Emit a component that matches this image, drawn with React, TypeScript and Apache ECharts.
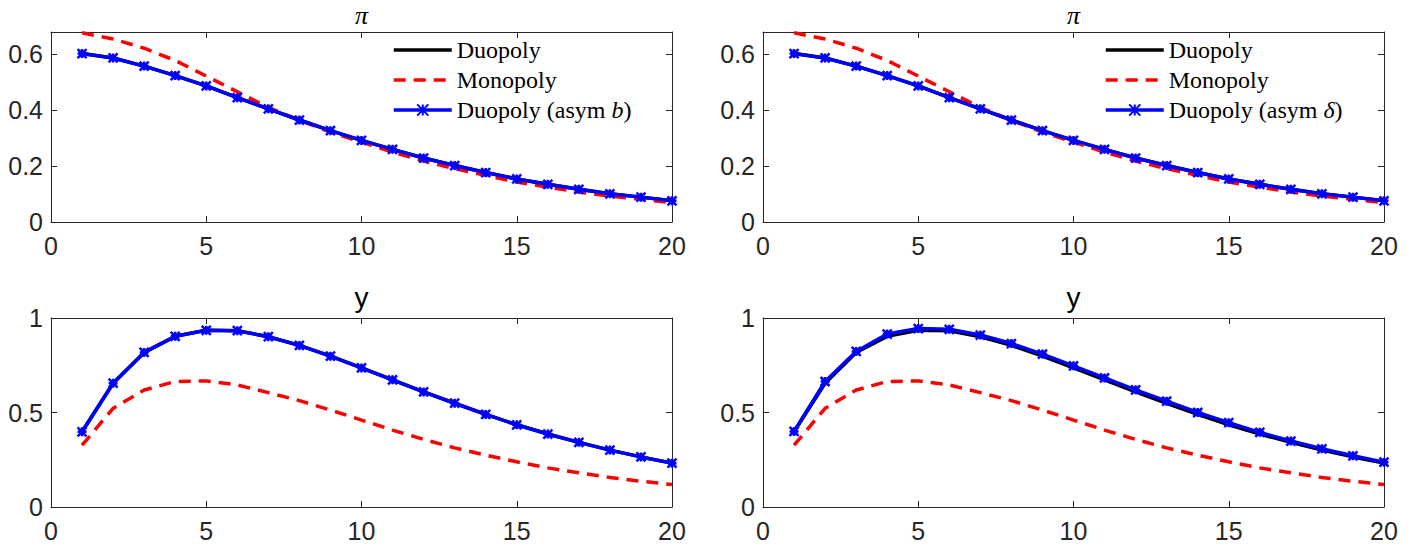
import React, { useEffect, useRef } from 'react';
import * as echarts from 'echarts';

const periods = [1, 2, 3, 4, 5, 6, 7, 8, 9, 10, 11, 12, 13, 14, 15, 16, 17, 18, 19, 20];

const piDuopoly = [0.603, 0.587, 0.558, 0.524, 0.487, 0.445, 0.405, 0.365, 0.327, 0.292, 0.26, 0.229, 0.202, 0.177, 0.154, 0.135, 0.117, 0.101, 0.089, 0.076];
const piMonopoly = [0.677, 0.655, 0.622, 0.578, 0.522, 0.466, 0.41, 0.364, 0.322, 0.286, 0.25, 0.218, 0.191, 0.167, 0.143, 0.125, 0.107, 0.093, 0.081, 0.069];
const piAsymB = [0.603, 0.587, 0.558, 0.524, 0.487, 0.445, 0.405, 0.365, 0.327, 0.292, 0.26, 0.229, 0.202, 0.177, 0.154, 0.135, 0.117, 0.101, 0.089, 0.076];
const piAsymDelta = [0.603, 0.587, 0.558, 0.524, 0.487, 0.445, 0.405, 0.365, 0.327, 0.292, 0.26, 0.229, 0.202, 0.177, 0.154, 0.135, 0.117, 0.101, 0.089, 0.076];

const yDuopoly = [0.398, 0.655, 0.818, 0.903, 0.935, 0.933, 0.901, 0.855, 0.798, 0.736, 0.673, 0.609, 0.549, 0.49, 0.435, 0.386, 0.342, 0.301, 0.265, 0.232];
const yMonopoly = [0.327, 0.522, 0.619, 0.664, 0.667, 0.646, 0.605, 0.563, 0.513, 0.46, 0.407, 0.358, 0.313, 0.274, 0.239, 0.207, 0.181, 0.156, 0.136, 0.119];
const yAsymB = [0.398, 0.655, 0.818, 0.903, 0.935, 0.933, 0.901, 0.855, 0.798, 0.736, 0.673, 0.609, 0.549, 0.49, 0.435, 0.386, 0.342, 0.301, 0.265, 0.232];
const yAsymDelta = [0.4, 0.664, 0.823, 0.915, 0.944, 0.94, 0.91, 0.865, 0.809, 0.747, 0.683, 0.62, 0.56, 0.5, 0.446, 0.395, 0.349, 0.308, 0.271, 0.237];

const xTicks = [0, 5, 10, 15, 20];
const panelTitles = ['π', 'π', 'y', 'y'];
const legendNamesLeft = ['Duopoly', 'Monopoly', 'Duopoly (asym b)'];
const legendNamesRight = ['Duopoly', 'Monopoly', 'Duopoly (asym δ)'];

const AXIS_COLOR = '#262626';
const STAR = 'path://M0,0L10,10M10,0L0,10M5,0L5,10M0,5L10,5';

const pairs = (ys: number[]) => periods.map((p, i) => [p, ys[i]]);

export default function App() {
  const ref = useRef<HTMLDivElement>(null);
  useEffect(() => {
    if (!ref.current) return;
    const chart = echarts.init(ref.current, undefined, { renderer: 'svg' });

    const grids = [
      { left: 51, top: 32, width: 621, height: 190 },
      { left: 763, top: 32, width: 621, height: 190 },
      { left: 51, top: 318, width: 621, height: 189 },
      { left: 763, top: 318, width: 621, height: 189 },
    ];
    const yRanges = [
      { max: 0.68, interval: 0.2 },
      { max: 0.68, interval: 0.2 },
      { max: 1, interval: 0.5 },
      { max: 1, interval: 0.5 },
    ];

    const xAxes: any[] = [];
    const yAxes: any[] = [];
    grids.forEach((g, i) => {
      const common = {
        gridIndex: i,
        type: 'value',
        axisLine: { show: true, onZero: false, lineStyle: { color: AXIS_COLOR, width: 1 } },
        axisTick: { show: true, inside: true, length: 6, lineStyle: { color: AXIS_COLOR } },
        splitLine: { show: false },
      };
      xAxes.push({
        ...common,
        position: 'bottom',
        min: 0,
        max: 20,
        interval: 5,
        axisLabel: {
          show: true,
          margin: 11,
          fontSize: 25,
          fontFamily: 'Liberation Sans',
          color: AXIS_COLOR,
          formatter: (v: number) => (xTicks.includes(v) ? String(v) : ''),
        },
      });
      xAxes.push({
        ...common,
        position: 'top',
        min: 0,
        max: 20,
        interval: 5,
        axisLabel: { show: false },
      });
      const r = yRanges[i];
      const fmt = (v: number) => {
        const k = Math.round(v / r.interval);
        if (Math.abs(k * r.interval - v) > 1e-6) return '';
        return String(Number(v.toFixed(2)));
      };
      yAxes.push({
        ...common,
        position: 'left',
        min: 0,
        max: r.max,
        interval: r.interval,
        axisLabel: {
          show: true,
          margin: 8,
          fontSize: 25,
          fontFamily: 'Liberation Sans',
          color: AXIS_COLOR,
          formatter: fmt,
        },
      });
      yAxes.push({
        ...common,
        position: 'right',
        min: 0,
        max: r.max,
        interval: r.interval,
        axisLabel: { show: false },
      });
    });

    const panels = [
      { duo: piDuopoly, mono: piMonopoly, asym: piAsymB, asymName: legendNamesLeft[2] },
      { duo: piDuopoly, mono: piMonopoly, asym: piAsymDelta, asymName: legendNamesRight[2] },
      { duo: yDuopoly, mono: yMonopoly, asym: yAsymB, asymName: legendNamesLeft[2] },
      { duo: yDuopoly, mono: yMonopoly, asym: yAsymDelta, asymName: legendNamesRight[2] },
    ];

    const series: any[] = [];
    panels.forEach((p, i) => {
      const axisIdx = i * 2;
      series.push({
        type: 'line',
        name: 'Duopoly',
        xAxisIndex: axisIdx,
        yAxisIndex: axisIdx,
        data: pairs(p.duo),
        showSymbol: false,
        symbol: 'none',
        lineStyle: { color: '#000000', width: 3.5 },
        itemStyle: { color: '#000000' },
        z: 2,
      });
      series.push({
        type: 'line',
        name: 'Monopoly',
        xAxisIndex: axisIdx,
        yAxisIndex: axisIdx,
        data: pairs(p.mono),
        showSymbol: false,
        symbol: 'none',
        lineStyle: { color: '#ff0000', width: 3.5, type: [12, 8] },
        itemStyle: { color: '#ff0000' },
        z: 3,
      });
      series.push({
        type: 'line',
        name: p.asymName,
        xAxisIndex: axisIdx,
        yAxisIndex: axisIdx,
        data: pairs(p.asym),
        symbol: STAR,
        symbolSize: 9,
        showSymbol: true,
        lineStyle: { color: '#0000ff', width: 3.5 },
        itemStyle: { color: '#0000ff', borderColor: '#0000ff', borderWidth: 2.5 },
        z: 4,
      });
    });

    const legendText = {
      fontSize: 24,
      fontFamily: 'Liberation Serif',
      color: '#000000',
      lineHeight: 26,
      rich: {
        i: { fontSize: 24, fontFamily: 'Liberation Serif', fontStyle: 'italic', color: '#000000' },
      },
    };
    const legendFormatter = (name: string) => {
      if (name === 'Duopoly (asym b)') return 'Duopoly (asym {i|b})';
      if (name === 'Duopoly (asym δ)') return 'Duopoly (asym {i|δ})';
      return name;
    };
    const legendItems = (names: string[]) =>
      names.map((n, k) => (k < 2 ? { name: n, itemStyle: { opacity: 0 } } : { name: n }));
    const legends = [
      { left: 392, data: legendItems(legendNamesLeft) },
      { left: 1104, data: legendItems(legendNamesRight) },
    ].map((l) => ({
      orient: 'vertical',
      left: l.left,
      top: 37,
      padding: 0,
      itemGap: 4,
      itemWidth: 58,
      itemHeight: 14,
      lineStyle: { width: 3.5 },
      data: l.data,
      formatter: legendFormatter,
      textStyle: legendText,
      selectedMode: false,
    }));

    const titleCenters = [361.5, 1073.5, 361.5, 1073.5];
    const titleTops = [2, 2, 283, 283];
    const titles = panelTitles.map((t, i) => ({
      text: t,
      left: titleCenters[i],
      top: titleTops[i],
      textAlign: 'center',
      padding: 0,
      textStyle: {
        fontSize: i < 2 ? 26 : 28,
        fontWeight: 'normal',
        fontStyle: i < 2 ? 'italic' : 'normal',
        fontFamily: i < 2 ? 'Liberation Serif' : 'Liberation Sans',
        color: '#000000',
      },
    }));

    chart.setOption({
      animation: false,
      backgroundColor: '#ffffff',
      title: titles,
      grid: grids,
      xAxis: xAxes,
      yAxis: yAxes,
      legend: legends,
      series,
    });
    return () => chart.dispose();
  }, []);

  return (
    <div
      ref={ref}
      style={{ position: 'absolute', left: 0, top: 0, width: 1428, height: 546, background: '#fff' }}
    />
  );
}
